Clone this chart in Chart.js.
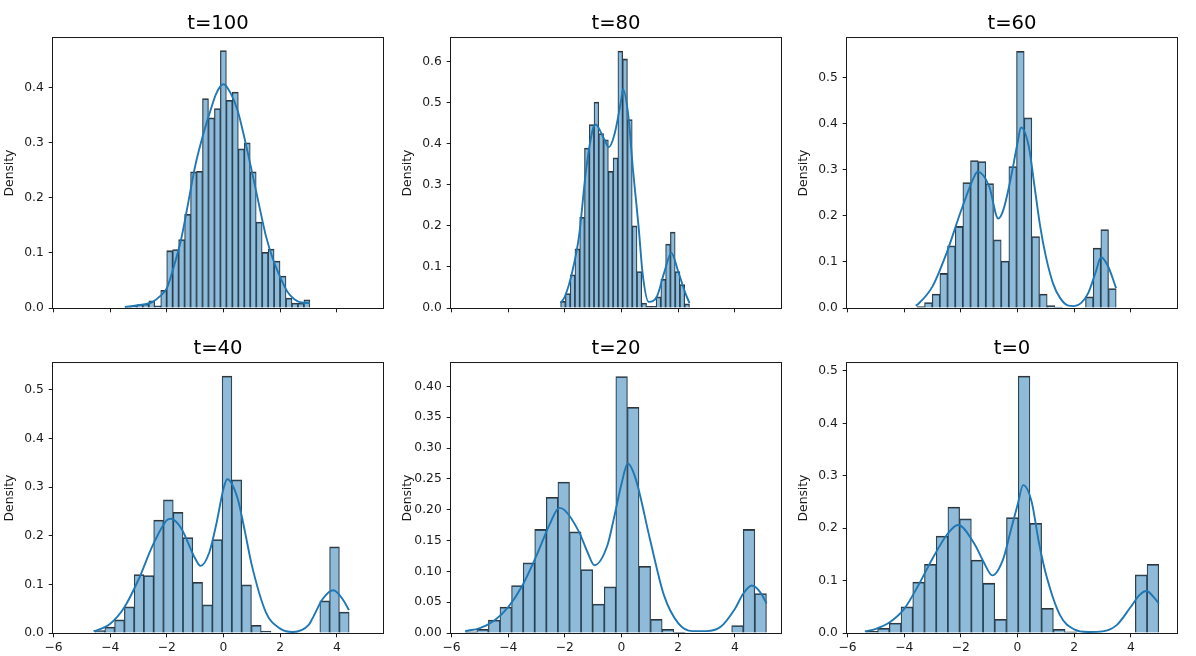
<!DOCTYPE html>
<html>
<head>
<meta charset="utf-8">
<script src="https://cdn.jsdelivr.net/npm/chart.js@4.4.1/dist/chart.umd.min.js"></script>
<style>
  html, body { margin: 0; padding: 0; background: #fff; overflow: hidden; }
  #fig { position: relative; width: 1196px; height: 656px; }
  #fig canvas { position: absolute; }
</style>
</head>
<body>
<div id="fig"></div>
<script>
// ---- data ----
const panelTitles = ["t=100", "t=80", "t=60", "t=40", "t=20", "t=0"];
const xTicks = [-6, -4, -2, 0, 2, 4];
const xRange = [-6.02, 5.63];

// histogram bins: left edge of first bin, bin width, density per bin
const bins100 = { start: -3.48, width: 0.2106 };
const density100 = [0.003, 0.004, 0.006, 0.007, 0.013, 0.004, 0.032, 0.104, 0.106, 0.124,
  0.170, 0.247, 0.248, 0.380, 0.345, 0.362, 0.467, 0.377, 0.392, 0.289,
  0.300, 0.247, 0.156, 0.101, 0.107, 0.085, 0.058, 0.018, 0.009, 0.009, 0.015];
const bins80 = { start: -2.15, width: 0.1685 };
const density80 = [0.016, 0.035, 0.081, 0.144, 0.221, 0.390, 0.447, 0.502, 0.425, 0.410,
  0.333, 0.366, 0.626, 0.607, 0.459, 0.200, 0.089, 0.012, 0.004, 0.004,
  0.027, 0.070, 0.156, 0.185, 0.089, 0.057, 0.010];
const bins60 = { start: -3.553, width: 0.2706 };
const density60 = [0.003, 0.012, 0.030, 0.075, 0.135, 0.177, 0.272, 0.320, 0.318, 0.270,
  0.148, 0.102, 0.307, 0.557, 0.413, 0.155, 0.030, 0.005, 0.002, 0,
  0, 0, 0.024, 0.130, 0.170, 0.042];
const bins40 = { start: -4.535, width: 0.345 };
const density40 = [0.005, 0.012, 0.027, 0.054, 0.120, 0.118, 0.232, 0.274, 0.248, 0.196,
  0.104, 0.058, 0.192, 0.528, 0.315, 0.099, 0.016, 0.004, 0, 0,
  0, 0, 0, 0.066, 0.177, 0.043];
const bins20 = { start: -5.518, width: 0.409 };
const density20 = [0.002, 0.006, 0.021, 0.042, 0.077, 0.114, 0.168, 0.220, 0.245, 0.164,
  0.103, 0.047, 0.075, 0.416, 0.366, 0.108, 0.022, 0.006, 0.001, 0,
  0, 0, 0, 0.012, 0.168, 0.064];
const bins0 = { start: -5.353, width: 0.4136 };
const density0 = [0.003, 0.009, 0.019, 0.050, 0.097, 0.131, 0.185, 0.240, 0.218, 0.139,
  0.095, 0.026, 0.220, 0.490, 0.209, 0.047, 0.007, 0.002, 0, 0,
  0, 0, 0, 0.111, 0.131];

// kde curves
const kdeX100 = [-3.48, -3, -2.5, -2.25, -2, -1.75, -1.5, -1.25, -1, -0.75, -0.5, -0.25, 0,
  0.25, 0.5, 0.75, 1, 1.25, 1.5, 1.75, 2, 2.25, 2.5, 2.75, 3.05];
const kdeY100 = [0.002, 0.005, 0.011, 0.021, 0.036, 0.076, 0.124, 0.19, 0.258, 0.309, 0.352, 0.39, 0.406,
  0.39, 0.358, 0.306, 0.248, 0.188, 0.13, 0.088, 0.056, 0.03, 0.016, 0.01, 0.009];
const kdeX80 = [-2.15, -2, -1.75, -1.5, -1.25, -1, -0.9, -0.75, -0.6, -0.45, -0.25, 0, 0.05,
  0.25, 0.4, 0.5, 0.6, 0.75, 0.96, 1.25, 1.5, 1.76, 2, 2.25, 2.4];
const kdeY80 = [0.012, 0.028, 0.085, 0.175, 0.337, 0.439, 0.447, 0.431, 0.41, 0.392, 0.423, 0.512, 0.533,
  0.463, 0.34, 0.27, 0.2, 0.081, 0.015, 0.028, 0.085, 0.134, 0.089, 0.037, 0.012];
const kdeX60 = [-3.59, -3.5, -3, -2.5, -2, -1.5, -1.41, -1, -0.68, -0.5, -0.25, 0, 0.12,
  0.4, 0.6, 0.8, 1, 1.25, 1.5, 1.8, 2, 2.25, 2.5, 2.75, 2.95, 3.2, 3.48];
const kdeY60 = [0.005, 0.009, 0.047, 0.12, 0.21, 0.289, 0.296, 0.264, 0.194, 0.213, 0.278, 0.358, 0.392,
  0.35, 0.264, 0.177, 0.112, 0.054, 0.022, 0.005, 0.004, 0.011, 0.033, 0.076, 0.11, 0.09, 0.043];
const kdeX40 = [-4.59, -4.5, -4, -3.5, -3, -2.5, -2, -1.86, -1.5, -1, -0.81, -0.5, -0.25, 0, 0.13,
  0.5, 0.75, 1, 1.5, 2, 2.45, 3, 3.14, 3.5, 3.88, 4.2, 4.43];
const kdeY40 = [0.004, 0.005, 0.019, 0.053, 0.11, 0.18, 0.232, 0.235, 0.216, 0.153, 0.138, 0.166, 0.225, 0.297, 0.316,
  0.276, 0.21, 0.139, 0.042, 0.009, 0.002, 0.016, 0.03, 0.07, 0.088, 0.07, 0.047];
const kdeX20 = [-5.52, -5, -4.5, -4, -3.5, -3, -2.5, -2.2, -2, -1.5, -1.2, -0.96, -0.5, -0.25, 0, 0.22,
  0.5, 1, 1.5, 2, 2.5, 3, 3.5, 4, 4.3, 4.6, 4.9, 5.12];
const kdeY20 = [0.003, 0.008, 0.02, 0.042, 0.077, 0.126, 0.18, 0.203, 0.199, 0.164, 0.131, 0.11, 0.142, 0.19, 0.242, 0.275,
  0.25, 0.153, 0.061, 0.016, 0.003, 0.003, 0.01, 0.039, 0.064, 0.077, 0.066, 0.048];
const kdeX0 = [-5.39, -5, -4.5, -4, -3.5, -3, -2.5, -2.1, -1.5, -1.2, -0.89, -0.5, -0.25, 0, 0.2,
  0.5, 0.75, 1, 1.5, 2, 2.5, 3, 3.5, 4, 4.3, 4.55, 4.8, 4.99];
const kdeY0 = [0.003, 0.008, 0.021, 0.046, 0.091, 0.142, 0.187, 0.206, 0.168, 0.136, 0.11, 0.142, 0.193, 0.244, 0.282,
  0.25, 0.174, 0.113, 0.034, 0.007, 0.002, 0.003, 0.015, 0.05, 0.072, 0.08, 0.069, 0.056];

// y axis per panel
const yMax = [0.49, 0.658, 0.586, 0.555, 0.438, 0.515];
const yTicks = [
  [0, 0.1, 0.2, 0.3, 0.4],
  [0, 0.1, 0.2, 0.3, 0.4, 0.5, 0.6],
  [0, 0.1, 0.2, 0.3, 0.4, 0.5],
  [0, 0.1, 0.2, 0.3, 0.4, 0.5],
  [0, 0.05, 0.10, 0.15, 0.20, 0.25, 0.30, 0.35, 0.40],
  [0, 0.1, 0.2, 0.3, 0.4, 0.5]
];
const yDecimals = [1, 1, 1, 1, 2, 1];

const panels = [
  { bins: bins100, density: density100, kx: kdeX100, ky: kdeY100 },
  { bins: bins80, density: density80, kx: kdeX80, ky: kdeY80 },
  { bins: bins60, density: density60, kx: kdeX60, ky: kdeY60 },
  { bins: bins40, density: density40, kx: kdeX40, ky: kdeY40 },
  { bins: bins20, density: density20, kx: kdeX20, ky: kdeY20 },
  { bins: bins0, density: density0, kx: kdeX0, ky: kdeY0 }
];

// ---- layout ----
const areaLeft = [53, 451, 847];
const areaTop = [38, 363];
const yAxisW = 53, titleH = 38, xAxisH = 23, padRight = 10, areaW = 330, areaH = 270;
const ink = "#1a1a1a";
const edge = "#333333";
const blue = "#1f77b4";

Chart.defaults.font.family = "'DejaVu Sans', sans-serif";
Chart.defaults.color = ink;

const framePlugin = {
  id: "frame",
  afterDatasetsDraw(chart) {
    const { ctx, chartArea: a } = chart;
    ctx.save();
    ctx.strokeStyle = ink;
    ctx.lineWidth = 1;
    ctx.strokeRect(a.left - 0.5, a.top - 0.5, a.right - a.left + 1, a.bottom - a.top + 1);
    ctx.restore();
  }
};

function minusSign(v) {
  return v < 0 ? "\u2212" + Math.abs(v) : String(v);
}

const fig = document.getElementById("fig");

panels.forEach((p, i) => {
  const col = i % 3, row = Math.floor(i / 3);
  const canvas = document.createElement("canvas");
  const w = yAxisW + areaW + padRight, h = titleH + areaH + xAxisH;
  canvas.width = w; canvas.height = h;
  canvas.style.width = w + "px"; canvas.style.height = h + "px";
  canvas.style.left = (areaLeft[col] - yAxisW) + "px";
  canvas.style.top = (areaTop[row] - titleH) + "px";
  fig.appendChild(canvas);

  const bars = p.density.map((v, k) => ({ x: p.bins.start + p.bins.width * (k + 0.5), y: v }));
  const kde = p.kx.map((x, k) => ({ x, y: p.ky[k] }));
  const showX = row === 1;

  new Chart(canvas, {
    type: "bar",
    data: {
      datasets: [
        {
          type: "line",
          data: kde,
          borderColor: blue,
          borderWidth: 1.9,
          pointRadius: 0,
          fill: false,
          cubicInterpolationMode: "monotone",
          order: 0
        },
        {
          type: "bar",
          data: bars,
          backgroundColor: "rgba(31,119,180,0.5)",
          borderColor: edge,
          borderWidth: { top: 1.1, left: 0.6, right: 0.6, bottom: 0 },
          borderSkipped: false,
          barPercentage: 1,
          categoryPercentage: 1,
          order: 1
        }
      ]
    },
    options: {
      responsive: false,
      animation: false,
      events: [],
      layout: { padding: { left: 0, right: padRight, top: 0, bottom: 0 } },
      plugins: {
        legend: { display: false },
        tooltip: { enabled: false },
        title: {
          display: true,
          text: panelTitles[i],
          fullSize: false,
          color: "#000",
          font: { size: 19.6, weight: "normal" },
          padding: { top: 12.4, bottom: 2.1 }
        }
      },
      scales: {
        x: {
          type: "linear",
          min: xRange[0],
          max: xRange[1],
          offset: false,
          grid: { offset: false, drawOnChartArea: false, drawTicks: true, tickLength: 4.3, tickColor: ink, tickWidth: 1 },
          border: { display: false },
          ticks: {
            font: { size: 12.3 },
            color: ink,
            padding: 3.5,
            maxRotation: 0,
            callback: (v) => (showX ? minusSign(v) : "")
          },
          afterBuildTicks: (ax) => { ax.ticks = xTicks.map((v) => ({ value: v })); },
          afterFit: (ax) => { ax.height = xAxisH; }
        },
        y: {
          min: 0,
          max: yMax[i],
          grid: { drawOnChartArea: false, drawTicks: true, tickLength: 4.3, tickColor: ink, tickWidth: 1 },
          border: { display: false },
          ticks: {
            font: { size: 12.3 },
            color: ink,
            padding: 5,
            callback: (v) => Number(v).toFixed(yDecimals[i])
          },
          afterBuildTicks: (ax) => { ax.ticks = yTicks[i].map((v) => ({ value: v })); },
          afterFit: (ax) => { ax.width = yAxisW; },
          title: {
            display: true,
            text: "Density",
            color: ink,
            font: { size: 12.3 },
            padding: { top: 2.3, bottom: 0 }
          }
        }
      }
    },
    plugins: [framePlugin]
  });
});
</script>
</body>
</html>
